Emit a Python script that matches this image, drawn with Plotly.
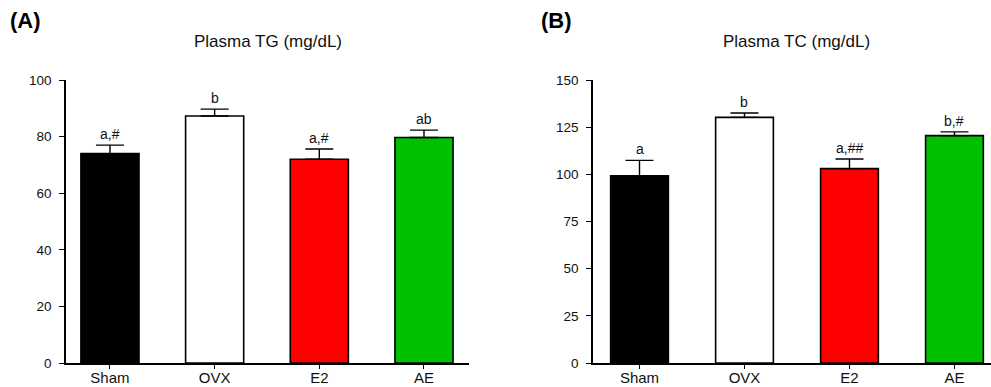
import plotly.graph_objects as go

# Group names shared by both panels
groups = ["Sham", "OVX", "E2", "AE"]
bar_colors = ["#000000", "#ffffff", "#ff0000", "#00c000"]

# Panel A: plasma triglycerides (mg/dL), mean and SEM
tg_mean = [74.0, 87.3, 72.0, 79.7]
tg_sem = [3.0, 2.4, 3.6, 2.6]
tg_labels = ["a,#", "b", "a,#", "ab"]
tg_ticks = [0, 20, 40, 60, 80, 100]

# Panel B: plasma total cholesterol (mg/dL), mean and SEM
tc_mean = [99.2, 130.2, 103.0, 120.5]
tc_sem = [8.2, 2.3, 5.1, 2.0]
tc_labels = ["a", "b", "a,##", "b,#"]
tc_ticks = [0, 25, 50, 75, 100, 125, 150]

FONT = "Liberation Sans, Arial, sans-serif"

fig = go.Figure()


def add_panel(means, sems, xa, ya, width):
    fig.add_trace(go.Bar(
        x=groups, y=means, xaxis=xa, yaxis=ya,
        width=[width] * len(groups),
        marker=dict(color=bar_colors, line=dict(color="#000000", width=1.6)),
        error_y=dict(type="data", symmetric=False, array=sems,
                     arrayminus=[0] * len(sems),
                     color="#000000", thickness=1.4, width=14),
        showlegend=False, hoverinfo="skip",
    ))


add_panel(tg_mean, tg_sem, "x", "y", 0.555)
add_panel(tc_mean, tc_sem, "x2", "y2", 0.55)

annotations = []
for xref, yref, means, sems, labels in [("x", "y", tg_mean, tg_sem, tg_labels),
                                         ("x2", "y2", tc_mean, tc_sem, tc_labels)]:
    for g, m, s, lab in zip(groups, means, sems, labels):
        annotations.append(dict(
            x=g, y=m + s, xref=xref, yref=yref, text=lab, showarrow=False,
            yanchor="bottom", yshift=1,
            font=dict(family=FONT, size=14, color="#111111"),
        ))

# Panel letters and titles
for x, text in [(0.008, "(A)"), (0.544, "(B)")]:
    annotations.append(dict(x=x, y=0.948, xref="paper", yref="paper", text=text,
                            showarrow=False, xanchor="left", yanchor="middle",
                            font=dict(family=FONT, size=22, color="#000000", weight="bold")))
for x, text in [(0.27, "Plasma TG (mg/dL)"), (0.804, "Plasma TC (mg/dL)")]:
    annotations.append(dict(x=x, y=0.892, xref="paper", yref="paper", text=text,
                            showarrow=False, xanchor="center", yanchor="middle",
                            font=dict(family=FONT, size=17, color="#111111")))

xaxis_common = dict(type="category", showline=True, linecolor="#000000", linewidth=1.5,
                    ticks="outside", ticklen=4, tickwidth=1.2, tickcolor="#000000",
                    showgrid=False, zeroline=False, automargin=False, ticklabelstandoff=-4,
                    tickfont=dict(family=FONT, size=15, color="#111111"))
yaxis_common = dict(showline=True, linecolor="#000000", linewidth=1.5,
                    ticks="outside", ticklen=5, tickwidth=1.2, tickcolor="#000000",
                    showgrid=False, zeroline=False, ticklabelstandoff=5, automargin=False,
                    tickfont=dict(family=FONT, size=13.5, color="#111111"))

fig.update_layout(
    width=991, height=387,
    margin=dict(l=0, r=0, t=0, b=0),
    paper_bgcolor="#ffffff", plot_bgcolor="#ffffff",
    xaxis=dict(domain=[66 / 991, 469 / 991], range=[-0.42, 3.43], anchor="y", **xaxis_common),
    yaxis=dict(domain=[1 - 363 / 387, 1 - 80 / 387], range=[0, 100], tickvals=tg_ticks,
               anchor="x", **yaxis_common),
    xaxis2=dict(domain=[593 / 991, 1.0], range=[-0.443, 3.348], anchor="y2", **xaxis_common),
    yaxis2=dict(domain=[1 - 363 / 387, 1 - 80 / 387], range=[0, 150], tickvals=tc_ticks,
                anchor="x2", **yaxis_common),
    annotations=annotations,
)

fig.write_html("out.html")
